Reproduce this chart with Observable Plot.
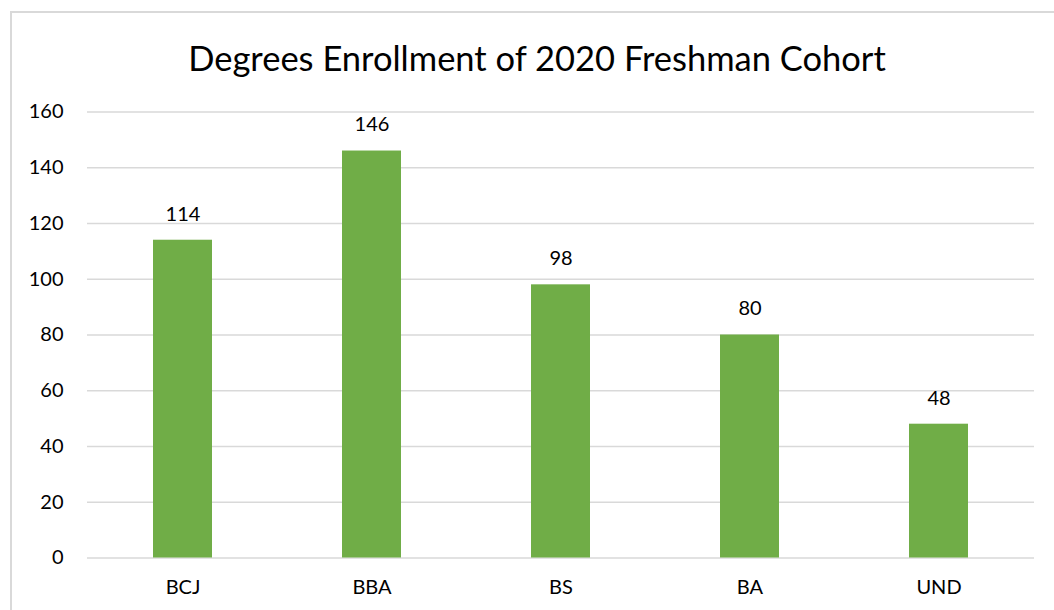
<!DOCTYPE html>
<html><head><meta charset="utf-8">
<script src="https://cdn.jsdelivr.net/npm/d3@7"></script>
<script src="https://cdn.jsdelivr.net/npm/@observablehq/plot@0.6"></script>
<style>
html,body{margin:0;padding:0;width:1054px;height:610px;overflow:hidden;background:#fff;font-family:Lato,"Open Sans",sans-serif;}
#frame{position:absolute;left:10px;top:11px;width:1100px;height:700px;border:2px solid #d9d9d9;box-sizing:border-box;}
#title{position:absolute;left:0;top:37px;width:1074px;text-align:center;font-size:34.5px;color:#000;line-height:42px;}
#chart{position:absolute;left:0;top:80px;}
</style></head>
<body>
<div id="frame"></div>
<div id="title">Degrees Enrollment of 2020 Freshman Cohort</div>
<div id="chart"></div>
<script>
const categories = ["BCJ","BBA","BS","BA","UND"];
const values = [114,146,98,80,48];
const yTicks = [0,20,40,60,80,100,120,140,160];
const data = categories.map((c,i)=>({cat:c,val:values[i]}));
const plot = Plot.plot({
  width:1054, height:530,
  marginLeft:87, marginRight:20, marginTop:31.5, marginBottom:52.5,
  style:{fontFamily:"Lato, 'Open Sans', sans-serif", fontSize:"20px", color:"#000", background:"transparent"},
  x:{domain:categories, paddingInner:0.689, paddingOuter:0.3445, label:null},
  y:{domain:[0,160], ticks:yTicks, label:null},
  marks:[
    Plot.gridY(yTicks,{stroke:"#d9d9d9", strokeOpacity:1, strokeWidth:1.5}),
    Plot.barY(data,{x:"cat", y:"val", fill:"#70ad47"}),
    Plot.text(data,{x:"cat", y:"val", text:d=>String(d.val), dy:-26, fontSize:20, fill:"#000"}),
    Plot.axisY({ticks:yTicks, tickSize:0, tickPadding:24, fontSize:20}),
    Plot.axisX({tickSize:0, tickPadding:22, fontSize:20})
  ]
});
document.getElementById("chart").appendChild(plot);
</script>
</body></html>
